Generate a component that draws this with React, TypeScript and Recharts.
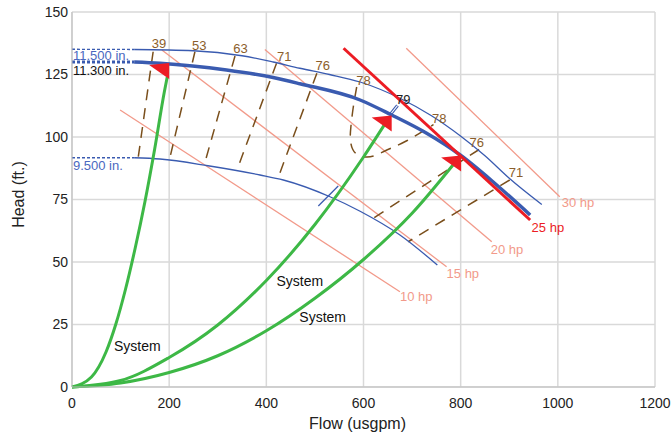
import React from "react";
import {
  ComposedChart,
  Line,
  Scatter,
  XAxis,
  YAxis,
  CartesianGrid,
  Label,
} from "recharts";

type Pt = { x: number; y: number };
type TextPt = { x: number; y: number; text: string };

const xTicks = [0, 200, 400, 600, 800, 1000, 1200];
const yTicks = [0, 25, 50, 75, 100, 125, 150];

// impeller curves (flow usgpm, head ft)
const imp115Ext: Pt[] = [{ x: 0, y: 135.1 }, { x: 128, y: 135 }];
const imp115: Pt[] = [
  { x: 128, y: 135 }, { x: 250, y: 134.5 }, { x: 350, y: 132.5 }, { x: 414, y: 130 },
  { x: 469, y: 127.5 }, { x: 530, y: 125 }, { x: 593, y: 122 }, { x: 675, y: 115.5 },
  { x: 740, y: 108.5 }, { x: 799, y: 100.5 }, { x: 850, y: 92.5 }, { x: 900, y: 83.5 },
  { x: 967, y: 73 },
];
const imp113Ext: Pt[] = [{ x: 0, y: 130 }, { x: 128, y: 130 }];
const imp113: Pt[] = [
  { x: 128, y: 130 }, { x: 181, y: 129.5 }, { x: 318, y: 126.8 }, { x: 414, y: 123.8 },
  { x: 469, y: 121.3 }, { x: 593, y: 114.8 }, { x: 658, y: 108.8 }, { x: 730, y: 101.5 },
  { x: 799, y: 92.8 }, { x: 870, y: 81.5 }, { x: 943, y: 68.8 },
];
const imp95Ext: Pt[] = [{ x: 0, y: 91.7 }, { x: 128, y: 91.7 }];
const imp95: Pt[] = [
  { x: 128, y: 91.7 }, { x: 181, y: 91.2 }, { x: 280, y: 88.5 }, { x: 387, y: 84.8 },
  { x: 435, y: 82.8 }, { x: 531, y: 76.1 }, { x: 593, y: 70.3 }, { x: 675, y: 60.8 },
  { x: 752, y: 48.8 },
];

// horsepower lines
const hp10: Pt[] = [{ x: 99, y: 110.8 }, { x: 675, y: 38.1 }];
const hp15: Pt[] = [{ x: 185, y: 134.8 }, { x: 771, y: 48.1 }];
const hp20: Pt[] = [{ x: 397, y: 135 }, { x: 864, y: 58.1 }];
const hp25: Pt[] = [{ x: 559, y: 135.5 }, { x: 943, y: 66.8 }];
const hp30: Pt[] = [{ x: 688, y: 135.5 }, { x: 1004, y: 76.1 }];

// efficiency lines
const eff39: Pt[] = [{ x: 167, y: 134.1 }, { x: 136.5, y: 92.1 }];
const eff53: Pt[] = [{ x: 253, y: 134.1 }, { x: 202, y: 92.1 }];
const eff63: Pt[] = [{ x: 335.5, y: 132.4 }, { x: 274, y: 90.1 }];
const eff71: Pt[] = [{ x: 421, y: 129.5 }, { x: 342, y: 88.1 }];
const eff76: Pt[] = [{ x: 504, y: 125.5 }, { x: 425, y: 84.1 }];
const eff78: Pt[] = [
  { x: 586, y: 120 }, { x: 579, y: 112 }, { x: 574, y: 104 }, { x: 573, y: 99 },
  { x: 578, y: 95 }, { x: 590, y: 92.6 }, { x: 607, y: 92 }, { x: 627, y: 92.8 },
  { x: 648, y: 94.8 }, { x: 689, y: 98.5 }, { x: 744, y: 105 },
];
const eff76R: Pt[] = [{ x: 838, y: 95 }, { x: 620, y: 67.5 }];
const eff71R: Pt[] = [{ x: 901, y: 82.8 }, { x: 692, y: 58.1 }];
const eff79: Pt[] = [{ x: 656, y: 109.2 }, { x: 670, y: 112.6 }];
const tick95: Pt[] = [{ x: 507, y: 72.4 }, { x: 548, y: 80.4 }];

// system curves
const sys1: Pt[] = [
  { x: 0, y: 0 }, { x: 40, y: 4 }, { x: 70, y: 14 }, { x: 90, y: 25 }, { x: 110, y: 39 },
  { x: 130, y: 55.5 }, { x: 150, y: 74 }, { x: 170, y: 95 }, { x: 190, y: 118 }, { x: 196, y: 124 },
];
const sys2: Pt[] = [
  { x: 0, y: 0 }, { x: 100, y: 2.6 }, { x: 200, y: 11.8 }, { x: 300, y: 24.8 }, { x: 400, y: 42.6 },
  { x: 500, y: 65 }, { x: 600, y: 92 }, { x: 650, y: 107 },
];
const sys3: Pt[] = [
  { x: 0, y: 0 }, { x: 100, y: 1.6 }, { x: 200, y: 5.8 }, { x: 300, y: 12.5 }, { x: 400, y: 22.5 },
  { x: 500, y: 35.5 }, { x: 600, y: 51 }, { x: 700, y: 69.5 }, { x: 785, y: 89 },
];
const opPoints: Pt[] = [{ x: 200, y: 129.6 }, { x: 658, y: 108.6 }, { x: 801, y: 92.6 }];

// labels
const impLabelsBlue: TextPt[] = [
  { x: 2, y: 132.8, text: "11.500 in." },
  { x: 2, y: 88.8, text: "9.500 in." },
];
const impLabelsBlack: TextPt[] = [{ x: 2, y: 126.8, text: "11.300 in." }];
const effLabels: TextPt[] = [
  { x: 179, y: 137.5, text: "39" }, { x: 262, y: 136.8, text: "53" }, { x: 347, y: 135.5, text: "63" },
  { x: 437, y: 132.4, text: "71" }, { x: 516, y: 128.8, text: "76" }, { x: 600, y: 122.8, text: "78" },
  { x: 756, y: 107.5, text: "78" }, { x: 833, y: 97.7, text: "76" }, { x: 914, y: 85.7, text: "71" },
];
const bepLabels: TextPt[] = [{ x: 682, y: 115.1, text: "79" }];
const hpLabels: TextPt[] = [
  { x: 675, y: 36.1, text: "10 hp" }, { x: 771, y: 45.5, text: "15 hp" },
  { x: 862, y: 55.2, text: "20 hp" }, { x: 1008, y: 73.7, text: "30 hp" },
];
const hpLabelsRed: TextPt[] = [{ x: 946, y: 63.9, text: "25 hp" }];
const sysLabels: TextPt[] = [
  { x: 134.5, y: 16.5, text: "System" }, { x: 469, y: 42.4, text: "System" }, { x: 516, y: 27.9, text: "System" },
];

const BLUE = "#3a5bb0";
const SALMON = "#f29a8a";
const RED = "#ec1c24";
const GREEN = "#3db846";
const BROWN = "#7a4f1c";

const textShape = (fill: string, anchor: "start" | "middle", size = 13) => (p: any) => (
  <text
    x={p.cx}
    y={p.cy}
    fill={fill}
    fontSize={size}
    textAnchor={anchor}
    dominantBaseline="central"
  >
    {p.payload.text}
  </text>
);

const triangleShape = (p: any) => (
  <polygon
    points={`${p.cx - 20},${p.cy + 2} ${p.cx},${p.cy} ${p.cx},${p.cy + 16}`}
    fill={RED}
  />
);

function line(key: string, data: Pt[], stroke: string, width: number, extra: any = {}) {
  return (
    <Line
      key={key}
      data={data}
      dataKey="y"
      type="monotone"
      stroke={stroke}
      strokeWidth={width}
      dot={false}
      activeDot={false}
      isAnimationActive={false}
      {...extra}
    />
  );
}

const XLabel = (props: any) => {
  const vb = props.viewBox;
  return (
    <text x={vb.x + vb.width / 2 - 6} y={vb.y + 36} textAnchor="middle" dominantBaseline="central" fontSize={16} fill="#222">
      Flow (usgpm)
    </text>
  );
};

const YLabel = (props: any) => {
  const vb = props.viewBox;
  const cx = vb.x + 18;
  const cy = vb.y + vb.height / 2 - 5;
  return (
    <text x={cx} y={cy} transform={`rotate(-90 ${cx} ${cy})`} textAnchor="middle" dominantBaseline="central" fontSize={16} fill="#222">
      Head (ft.)
    </text>
  );
};

export default function App() {
  const dash = { strokeDasharray: "11 8", type: "linear" };
  return (
    <div style={{ position: "absolute", left: 0, top: 0, fontFamily: "'Liberation Sans', Arial, sans-serif" }}>
      <ComposedChart width={671} height={440} margin={{ top: 12, right: 16, bottom: 8, left: 0 }}>
        <CartesianGrid stroke="#d9d9d9" strokeWidth={1.5} />
        <XAxis
          dataKey="x"
          type="number"
          domain={[0, 1200]}
          ticks={xTicks}
          tickLine={false}
          tickSize={0}
          tickMargin={11}
          axisLine={{ stroke: "#bdbdbd" }}
          tick={{ fontSize: 14, fill: "#222" }}
          height={45}
        >
          <Label content={XLabel} />
        </XAxis>
        <YAxis
          type="number"
          domain={[0, 150]}
          ticks={yTicks}
          tickLine={false}
          tickSize={0}
          tickMargin={4}
          axisLine={{ stroke: "#bdbdbd" }}
          tick={{ fontSize: 14, fill: "#222" }}
          width={72}
        >
          <Label content={YLabel} />
        </YAxis>

        {line("hp10", hp10, SALMON, 1.3, { type: "linear" })}
        {line("hp15", hp15, SALMON, 1.3, { type: "linear" })}
        {line("hp20", hp20, SALMON, 1.3, { type: "linear" })}
        {line("hp30", hp30, SALMON, 1.3, { type: "linear" })}

        {line("e39", eff39, BROWN, 1.5, dash)}
        {line("e53", eff53, BROWN, 1.5, dash)}
        {line("e63", eff63, BROWN, 1.5, dash)}
        {line("e71", eff71, BROWN, 1.5, dash)}
        {line("e76", eff76, BROWN, 1.5, dash)}
        {line("e78", eff78, BROWN, 1.5, { strokeDasharray: "11 8", type: "natural" })}
        {line("e76r", eff76R, BROWN, 1.5, dash)}
        {line("e71r", eff71R, BROWN, 1.5, dash)}

        {line("i115x", imp115Ext, BLUE, 1.3, { strokeDasharray: "3 2", type: "linear" })}
        {line("i113x", imp113Ext, BLUE, 3, { strokeDasharray: "3 2", type: "linear" })}
        {line("i95x", imp95Ext, BLUE, 1.3, { strokeDasharray: "3 2", type: "linear" })}
        {line("i115", imp115, BLUE, 1.3)}
        {line("i95", imp95, BLUE, 1.3)}
        {line("t95", tick95, BLUE, 1.3, { type: "linear" })}
        {line("e79", eff79, BLUE, 3.2, { type: "linear" })}
        {line("e79w", eff79, "#ffffff", 1.2, { type: "linear" })}
        {line("i113", imp113, BLUE, 3.5)}

        {line("hp25", hp25, RED, 3, { type: "linear" })}

        {line("s1", sys1, GREEN, 3)}
        {line("s2", sys2, GREEN, 3)}
        {line("s3", sys3, GREEN, 3)}

        <Scatter data={opPoints} dataKey="y" shape={triangleShape} isAnimationActive={false} />
        <Scatter data={impLabelsBlue} dataKey="y" shape={textShape("#4a68c0", "start")} isAnimationActive={false} />
        <Scatter data={impLabelsBlack} dataKey="y" shape={textShape("#111", "start")} isAnimationActive={false} />
        <Scatter data={effLabels} dataKey="y" shape={textShape("#8b5e2b", "middle")} isAnimationActive={false} />
        <Scatter data={bepLabels} dataKey="y" shape={textShape("#222", "middle")} isAnimationActive={false} />
        <Scatter data={hpLabels} dataKey="y" shape={textShape(SALMON, "start")} isAnimationActive={false} />
        <Scatter data={hpLabelsRed} dataKey="y" shape={textShape(RED, "start")} isAnimationActive={false} />
        <Scatter data={sysLabels} dataKey="y" shape={textShape("#111", "middle", 14)} isAnimationActive={false} />
      </ComposedChart>
    </div>
  );
}
